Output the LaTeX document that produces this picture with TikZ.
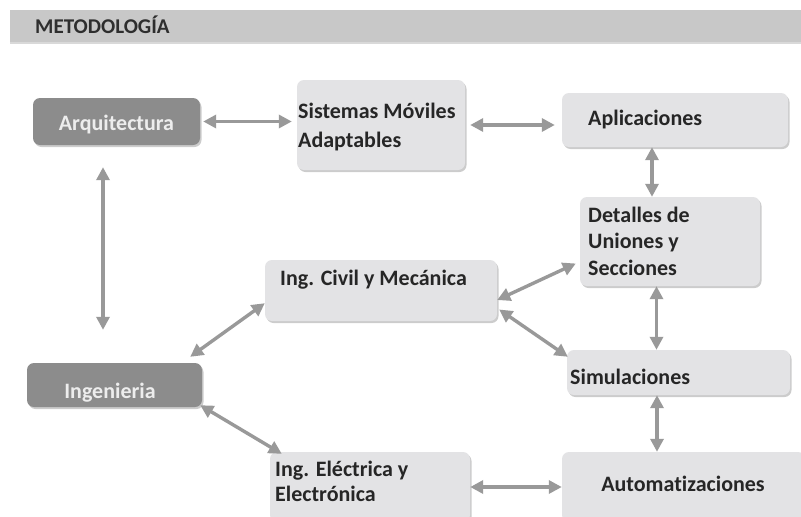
\documentclass[tikz,border=0pt]{standalone}
\usepackage{fontspec}
\setmainfont{Carlito}[Ligatures=NoCommon]
\usetikzlibrary{arrows.meta,shadows,calc}
\definecolor{cDark}{HTML}{8C8C8C}
\definecolor{cLight}{HTML}{E3E3E5}
\definecolor{cArrow}{HTML}{999999}
\definecolor{cText}{HTML}{262626}
\definecolor{cHead}{HTML}{C8C8C8}
\begin{document}
\begin{tikzpicture}[x=1pt,y=-1pt,
  boxbase/.style={rounded corners=7pt, inner sep=0pt,
    drop shadow={shadow xshift=1.5pt,shadow yshift=-2pt,fill=black,opacity=0.2}},
  darkbox/.style={boxbase, fill=cDark},
  lightbox/.style={boxbase, fill=cLight},
  lbl/.style={font=\fontsize{22}{26}\selectfont\bfseries, text=cText, inner sep=0pt, anchor=base west},
  wlbl/.style={lbl, text=white!93!black, anchor=base},
  link/.style={draw=cArrow, line width=3.4pt,
    {Triangle[length=13pt,width=13pt]}-{Triangle[length=13pt,width=13pt]}}
]
\useasboundingbox (0,0) rectangle (801,517);
\clip (0,0) rectangle (801,517);
\fill[white] (0,0) rectangle (801,517);

% header
\node[fill=cHead, minimum width=800pt, minimum height=32pt, anchor=north west, inner sep=0pt,
  drop shadow={shadow xshift=0pt,shadow yshift=-2pt,fill=black,opacity=0.15}] (head) at (10,10) {};
\node[lbl, font=\fontsize{21}{24}\selectfont\bfseries, text=black!82] (ttl) at (35,33) {METODOLOGÍA};

% boxes
\node[darkbox, minimum width=167pt, minimum height=47pt] (arq) at (116.5,121.5) {};
\node[lightbox, minimum width=168pt, minimum height=90pt] (sis) at (381,125) {};
\node[lightbox, minimum width=226pt, minimum height=54pt] (apl) at (675,120) {};
\node[lightbox, minimum width=180pt, minimum height=89pt] (det) at (670,241.5) {};
\node[lightbox, minimum width=232pt, minimum height=61pt] (civ) at (381,290.5) {};
\node[lightbox, minimum width=223pt, minimum height=45pt] (sim) at (678.5,372.5) {};
\node[darkbox, minimum width=175pt, minimum height=44pt] (ing) at (114.5,385) {};
\node[lightbox, minimum width=200pt, minimum height=70pt] (ele) at (370,487) {};
\node[lightbox, minimum width=243pt, minimum height=70pt] (aut) at (683.5,487) {};

% texts
\node[wlbl] (tarq) at (116.5,130) {Arquitectura};
\node[lbl] (tsis1) at (298,118) {Sistemas Móviles};
\node[lbl] (tsis2) at (298,147) {Adaptables};
\node[lbl] (tapl) at (588,125) {Aplicaciones};
\node[lbl] (tdet1) at (588,222) {Detalles de};
\node[lbl] (tdet2) at (588,248) {Uniones y};
\node[lbl] (tdet3) at (588,275) {Secciones};
\node[lbl] (tciv) at (280,285) {Ing. Civil y Mecánica};
\node[lbl] (tsim) at (570,384) {Simulaciones};
\node[wlbl] (ting) at (110,398) {Ingenieria};
\node[lbl] (tele1) at (275,476) {Ing. Eléctrica y};
\node[lbl] (tele2) at (275,501) {Electrónica};
\node[lbl, anchor=base] (taut) at (683,491) {Automatizaciones};

% connectors
\draw[link, shorten <=3pt, shorten >=5pt] (arq.east) -- (arq.east -| sis.west);
\draw[link, shorten <=5pt, shorten >=7pt] (sis.east) -- (sis.east -| apl.west);
\draw[link] ([xshift=-23pt]apl.south) -- ([xshift=-23pt]apl.south |- det.north);
\draw[link, shorten <=22pt, shorten >=33pt] ([xshift=-13.5pt]arq.south) -- ([xshift=-13.5pt]arq.south |- ing.north);
\draw[link] ([xshift=-12pt,yshift=6pt]ing.north east) -- ([yshift=18pt]civ.south west);
\draw[link] ([xshift=-2pt,yshift=2pt]ing.south east) -- ([xshift=12pt,yshift=-2pt]ele.north west);
\draw[link] ([yshift=-9.5pt]civ.east) -- ([xshift=-4pt,yshift=-22pt]det.west);
\draw[link] ([xshift=2pt,yshift=-19pt]civ.east) -- ([xshift=1pt,yshift=-7pt]sim.north west);
\draw[link] ([xshift=-13.5pt]det.south) -- ([xshift=-13.5pt]det.south |- sim.north);
\draw[link] ([xshift=-21.5pt]sim.south) -- ([xshift=-21.5pt]sim.south |- aut.north);
\draw[link] (ele.east) -- (ele.east -| aut.west);
\end{tikzpicture}
\end{document}
